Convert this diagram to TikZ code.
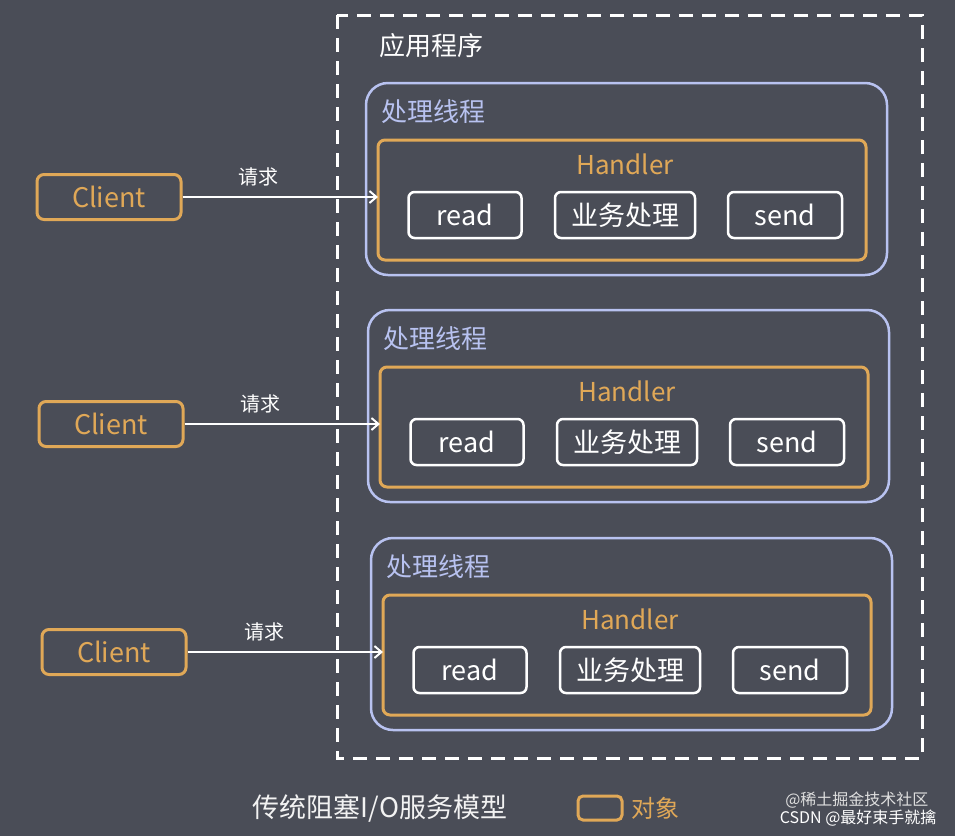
\documentclass[tikz,border=0pt]{standalone}
\usepackage{fontspec}
\setmainfont{Noto Sans CJK SC}
\begin{document}
\begin{tikzpicture}[x=1pt,y=-1pt,
  org/.style={draw=orgc,line width=3pt,rounded corners=7pt},
  blu/.style={draw=bluc,line width=2.5pt,rounded corners=22pt},
  wht/.style={draw=white,line width=2.5pt,rounded corners=6pt,minimum width=113pt,minimum height=46pt,text=white,font=\fontsize{27}{27}\selectfont,inner sep=0pt},
  arr/.style={draw=white,line width=2pt,->,>={Straight Barb[length=7pt,width=12pt]}},
  lab/.style={text=white,font=\fontsize{20}{20}\selectfont},
]
\definecolor{bg}{HTML}{4A4D57}
\definecolor{orgc}{HTML}{E0A857}
\definecolor{bluc}{HTML}{B8C2F0}
\usetikzlibrary{arrows.meta}
\fill[bg] (0,0) rectangle (955,836);
\useasboundingbox (0,0) rectangle (955,836);
\draw[white,line width=3pt,dash pattern=on 14pt off 9pt] (337,15) rectangle (922,758);
\node[anchor=west,text=white,font=\fontsize{26}{26}\selectfont] (app) at (376,46) {应用程序};
\foreach \i/\dx/\dy in {1/0/0,2/2/227,3/5/455}{
  \begin{scope}[shift={(\dx,\dy)}]
  \draw[blu] (366,83) rectangle (887,275);
  \node[anchor=west,text=bluc,font=\fontsize{26}{26}\selectfont] (t\i) at (378,112) {处理线程};
  \draw[org] (378,140) rectangle (866,260);
  \coordinate (h\i) at (378,197);
  \node[text=orgc,font=\fontsize{26}{26}\selectfont] (hl\i) at (625,164) {Handler};
  \node[wht] (r\i) at (465,215) {read};
  \node[wht,minimum width=140pt] (b\i) at (625,215) {业务处理};
  \node[wht,minimum width=114pt] (s\i) at (785,215) {send};
  \node[org,draw=orgc,minimum width=144pt,minimum height=45pt,text=orgc,font=\fontsize{27}{27}\selectfont,inner sep=0pt] (c\i) at (109,197) {Client};
  \end{scope}
  \draw[arr] (c\i.east) -- (h\i);
}
\node[lab] (q1) at (258,177) {请求};
\node[lab] (q2) at (260,404) {请求};
\node[lab] (q3) at (264,632) {请求};
\node[text=white!90!gray,font=\fontsize{27}{27}\selectfont] (cap) at (380,808) {传统阻塞I/O服务模型};
\node[org,minimum width=44pt,minimum height=24pt,inner sep=0pt,rounded corners=5pt] (leg) at (600,808) {};
\node[text=orgc,font=\fontsize{24}{24}\selectfont] (obj) at (655,808) {对象};
\node[text=white!75!gray,font=\fontsize{16}{16}\selectfont,anchor=east] (w1) at (932,800) {@稀土掘金技术社区};
\node[text=white,font=\fontsize{16}{16}\selectfont,anchor=east] (w2) at (940,818) {CSDN @最好束手就擒};
\end{tikzpicture}
\end{document}
